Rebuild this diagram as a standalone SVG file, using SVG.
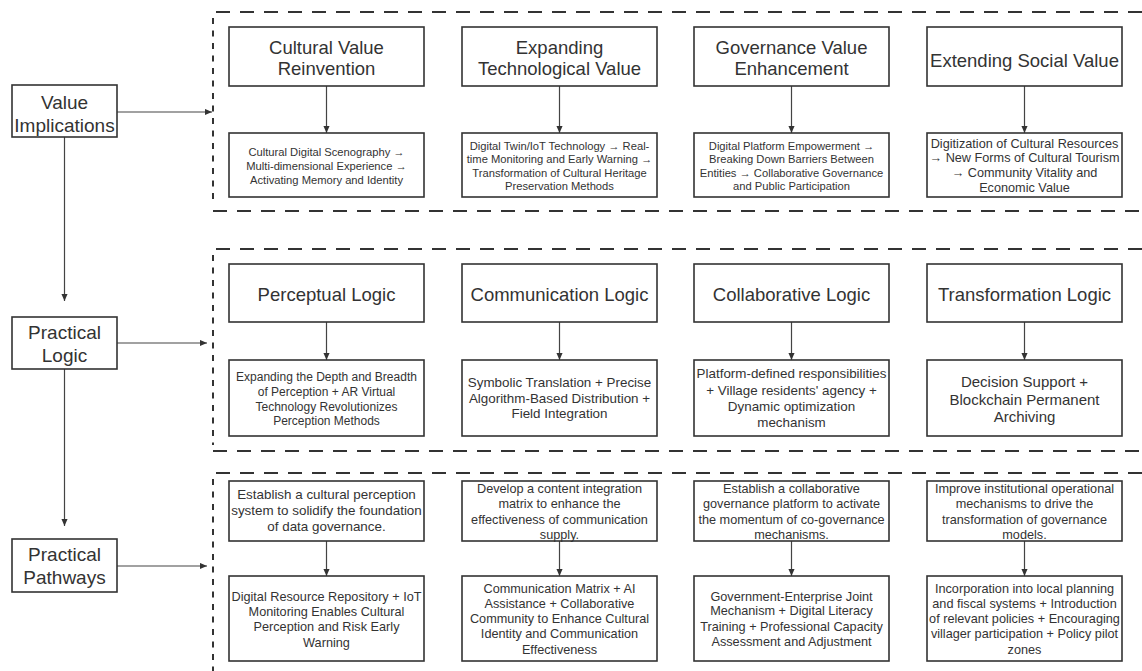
<svg xmlns="http://www.w3.org/2000/svg" width="1142" height="671" viewBox="0 0 1142 671">
<defs>
<style>
.bg{fill:#ffffff}
.box{fill:#ffffff;stroke:#333333;stroke-width:1.6}
.dash{fill:none;stroke:#333333;stroke-width:2;stroke-dasharray:14 10}
.vdash{fill:none;stroke:#333333;stroke-width:2;stroke-dasharray:6 6.5}
.con{fill:none;stroke:#444444;stroke-width:1.2}
text{font-family:"Liberation Sans",Arial,sans-serif;fill:#333333;text-anchor:middle}
.lbl{font-size:19px}
.ttl{font-size:18.5px}
.s11{font-size:11.2px}
.s12{font-size:12px}
.s126{font-size:12.7px}
.s13{font-size:13.4px}
.s15{font-size:15px}
</style>
<marker id="ah" viewBox="0 0 8 8" refX="8" refY="4" markerWidth="7" markerHeight="7" markerUnits="userSpaceOnUse" orient="auto">
<path d="M0,0.5 L8,4 L0,7.5 Z" fill="#333333"/>
</marker>
</defs>
<rect class="bg" x="0" y="0" width="1142" height="671"/>

<g id="containers">
<path class="dash" d="M1142,12 H213"/>
<path class="vdash" d="M213,18 V205"/>
<path class="dash" d="M213,211 H1142"/>
<path class="dash" d="M1142,249 H213"/>
<path class="vdash" d="M213,255 V445"/>
<path class="dash" d="M213,451 H1142"/>
<path class="dash" d="M1142,473 H213"/>
<path class="vdash" d="M213,479 V671"/>
</g>

<g id="connectors">
<line class="con" x1="117" y1="112" x2="212" y2="112" marker-end="url(#ah)"/>
<line class="con" x1="117" y1="343" x2="207" y2="343" marker-end="url(#ah)"/>
<line class="con" x1="117" y1="566" x2="207" y2="566" marker-end="url(#ah)"/>
<line class="con" x1="64.5" y1="137" x2="64.5" y2="301" marker-end="url(#ah)"/>
<line class="con" x1="64.5" y1="369" x2="64.5" y2="526" marker-end="url(#ah)"/>
<line class="con" x1="326.5" y1="86" x2="326.5" y2="133" marker-end="url(#ah)"/>
<line class="con" x1="559.5" y1="86" x2="559.5" y2="133" marker-end="url(#ah)"/>
<line class="con" x1="791.5" y1="86" x2="791.5" y2="133" marker-end="url(#ah)"/>
<line class="con" x1="1024.5" y1="86" x2="1024.5" y2="133" marker-end="url(#ah)"/>
<line class="con" x1="326.5" y1="322" x2="326.5" y2="360" marker-end="url(#ah)"/>
<line class="con" x1="559.5" y1="322" x2="559.5" y2="360" marker-end="url(#ah)"/>
<line class="con" x1="791.5" y1="322" x2="791.5" y2="360" marker-end="url(#ah)"/>
<line class="con" x1="1024.5" y1="322" x2="1024.5" y2="360" marker-end="url(#ah)"/>
<line class="con" x1="326.5" y1="541" x2="326.5" y2="576" marker-end="url(#ah)"/>
<line class="con" x1="559.5" y1="541" x2="559.5" y2="576" marker-end="url(#ah)"/>
<line class="con" x1="791.5" y1="541" x2="791.5" y2="576" marker-end="url(#ah)"/>
<line class="con" x1="1024.5" y1="541" x2="1024.5" y2="576" marker-end="url(#ah)"/>
</g>

<g id="value-implications">
<rect class="box" x="12" y="85" width="105" height="52"/>
<text class="lbl" x="64.5" y="109">Value</text>
<text class="lbl" x="64.5" y="132">Implications</text>
</g>
<g id="practical-logic">
<rect class="box" x="12" y="317" width="105" height="52"/>
<text class="lbl" x="64.5" y="339">Practical</text>
<text class="lbl" x="64.5" y="362">Logic</text>
</g>
<g id="practical-pathways">
<rect class="box" x="12" y="539" width="105" height="53"/>
<text class="lbl" x="64.5" y="561">Practical</text>
<text class="lbl" x="64.5" y="584">Pathways</text>
</g>

<!-- Row 1 -->
<g id="cultural-value">
<rect class="box" x="229" y="27" width="195" height="59"/>
<text class="ttl" x="326.5" y="54">Cultural Value</text>
<text class="ttl" x="326.5" y="75">Reinvention</text>
</g>
<g id="cultural-value-detail">
<rect class="box" x="229" y="133" width="195" height="64"/>
<text class="s11" x="326.5" y="156">Cultural Digital Scenography →</text>
<text class="s11" x="326.5" y="170">Multi-dimensional Experience →</text>
<text class="s11" x="326.5" y="184">Activating Memory and Identity</text>
</g>
<g id="tech-value">
<rect class="box" x="462" y="27" width="195" height="59"/>
<text class="ttl" x="559.5" y="54">Expanding</text>
<text class="ttl" x="559.5" y="75">Technological Value</text>
</g>
<g id="tech-value-detail">
<rect class="box" x="462" y="133" width="195" height="64"/>
<text class="s11" x="559.5" y="150">Digital Twin/IoT Technology → Real-</text>
<text class="s11" x="559.5" y="163">time Monitoring and Early Warning →</text>
<text class="s11" x="559.5" y="177">Transformation of Cultural Heritage</text>
<text class="s11" x="559.5" y="190">Preservation Methods</text>
</g>
<g id="governance-value">
<rect class="box" x="694" y="27" width="195" height="59"/>
<text class="ttl" x="791.5" y="54">Governance Value</text>
<text class="ttl" x="791.5" y="75">Enhancement</text>
</g>
<g id="governance-value-detail">
<rect class="box" x="694" y="133" width="195" height="64"/>
<text class="s11" x="791.5" y="150">Digital Platform Empowerment →</text>
<text class="s11" x="791.5" y="163">Breaking Down Barriers Between</text>
<text class="s11" x="791.5" y="177">Entities → Collaborative Governance</text>
<text class="s11" x="791.5" y="190">and Public Participation</text>
</g>
<g id="social-value">
<rect class="box" x="927" y="27" width="195" height="59"/>
<text class="ttl" x="1024.5" y="66.5">Extending Social Value</text>
</g>
<g id="social-value-detail">
<rect class="box" x="927" y="133" width="195" height="64"/>
<text class="s126" x="1024.5" y="147.5">Digitization of Cultural Resources</text>
<text class="s126" x="1024.5" y="162">→ New Forms of Cultural Tourism</text>
<text class="s126" x="1024.5" y="177">→ Community Vitality and</text>
<text class="s126" x="1024.5" y="192">Economic Value</text>
</g>

<!-- Row 2 -->
<g id="perceptual-logic">
<rect class="box" x="229" y="264" width="195" height="58"/>
<text class="ttl" x="326.5" y="300.5">Perceptual Logic</text>
</g>
<g id="perceptual-logic-detail">
<rect class="box" x="229" y="360" width="195" height="76"/>
<text class="s12" x="326.5" y="381">Expanding the Depth and Breadth</text>
<text class="s12" x="326.5" y="395.5">of Perception + AR Virtual</text>
<text class="s12" x="326.5" y="410.5">Technology Revolutionizes</text>
<text class="s12" x="326.5" y="425">Perception Methods</text>
</g>
<g id="communication-logic">
<rect class="box" x="462" y="264" width="195" height="58"/>
<text class="ttl" x="559.5" y="300.5">Communication Logic</text>
</g>
<g id="communication-logic-detail">
<rect class="box" x="462" y="360" width="195" height="76"/>
<text class="s13" x="559.5" y="387">Symbolic Translation + Precise</text>
<text class="s13" x="559.5" y="403">Algorithm-Based Distribution +</text>
<text class="s13" x="559.5" y="418">Field Integration</text>
</g>
<g id="collaborative-logic">
<rect class="box" x="694" y="264" width="195" height="58"/>
<text class="ttl" x="791.5" y="300.5">Collaborative Logic</text>
</g>
<g id="collaborative-logic-detail">
<rect class="box" x="694" y="360" width="195" height="76"/>
<text class="s13" x="791.5" y="378">Platform-defined responsibilities</text>
<text class="s13" x="791.5" y="395">+ Village residents' agency +</text>
<text class="s13" x="791.5" y="411">Dynamic optimization</text>
<text class="s13" x="791.5" y="427">mechanism</text>
</g>
<g id="transformation-logic">
<rect class="box" x="927" y="264" width="195" height="58"/>
<text class="ttl" x="1024.5" y="300.5">Transformation Logic</text>
</g>
<g id="transformation-logic-detail">
<rect class="box" x="927" y="360" width="195" height="76"/>
<text class="s15" x="1024.5" y="387">Decision Support +</text>
<text class="s15" x="1024.5" y="404.5">Blockchain Permanent</text>
<text class="s15" x="1024.5" y="422">Archiving</text>
</g>

<!-- Row 3 -->
<g id="pathway-1">
<rect class="box" x="229" y="481" width="195" height="60"/>
<text class="s13" x="326.5" y="499">Establish a cultural perception</text>
<text class="s13" x="326.5" y="515">system to solidify the foundation</text>
<text class="s13" x="326.5" y="531">of data governance.</text>
</g>
<g id="pathway-1-detail">
<rect class="box" x="229" y="576" width="195" height="85"/>
<text class="s126" x="326.5" y="600.5">Digital Resource Repository + IoT</text>
<text class="s126" x="326.5" y="615.5">Monitoring Enables Cultural</text>
<text class="s126" x="326.5" y="631">Perception and Risk Early</text>
<text class="s126" x="326.5" y="646.5">Warning</text>
</g>
<g id="pathway-2">
<rect class="box" x="462" y="481" width="195" height="60"/>
<text class="s126" x="559.5" y="492.5">Develop a content integration</text>
<text class="s126" x="559.5" y="507.5">matrix to enhance the</text>
<text class="s126" x="559.5" y="523.5">effectiveness of communication</text>
<text class="s126" x="559.5" y="538.5">supply.</text>
</g>
<g id="pathway-2-detail">
<rect class="box" x="462" y="576" width="195" height="85"/>
<text class="s126" x="559.5" y="592.5">Communication Matrix + AI</text>
<text class="s126" x="559.5" y="607.5">Assistance + Collaborative</text>
<text class="s126" x="559.5" y="622.5">Community to Enhance Cultural</text>
<text class="s126" x="559.5" y="637.5">Identity and Communication</text>
<text class="s126" x="559.5" y="653.5">Effectiveness</text>
</g>
<g id="pathway-3">
<rect class="box" x="694" y="481" width="195" height="60"/>
<text class="s126" x="791.5" y="492.5">Establish a collaborative</text>
<text class="s126" x="791.5" y="507.5">governance platform to activate</text>
<text class="s126" x="791.5" y="523.5">the momentum of co-governance</text>
<text class="s126" x="791.5" y="538.5">mechanisms.</text>
</g>
<g id="pathway-3-detail">
<rect class="box" x="694" y="576" width="195" height="85"/>
<text class="s126" x="791.5" y="600.5">Government-Enterprise Joint</text>
<text class="s126" x="791.5" y="615">Mechanism + Digital Literacy</text>
<text class="s126" x="791.5" y="630.5">Training + Professional Capacity</text>
<text class="s126" x="791.5" y="645.5">Assessment and Adjustment</text>
</g>
<g id="pathway-4">
<rect class="box" x="927" y="481" width="195" height="60"/>
<text class="s126" x="1024.5" y="492.5">Improve institutional operational</text>
<text class="s126" x="1024.5" y="507.5">mechanisms to drive the</text>
<text class="s126" x="1024.5" y="523.5">transformation of governance</text>
<text class="s126" x="1024.5" y="538.5">models.</text>
</g>
<g id="pathway-4-detail">
<rect class="box" x="927" y="576" width="195" height="85"/>
<text class="s126" x="1024.5" y="592.5">Incorporation into local planning</text>
<text class="s126" x="1024.5" y="607.5">and fiscal systems + Introduction</text>
<text class="s126" x="1024.5" y="622.5">of relevant policies + Encouraging</text>
<text class="s126" x="1024.5" y="637.5">villager participation + Policy pilot</text>
<text class="s126" x="1024.5" y="653.5">zones</text>
</g>
</svg>
